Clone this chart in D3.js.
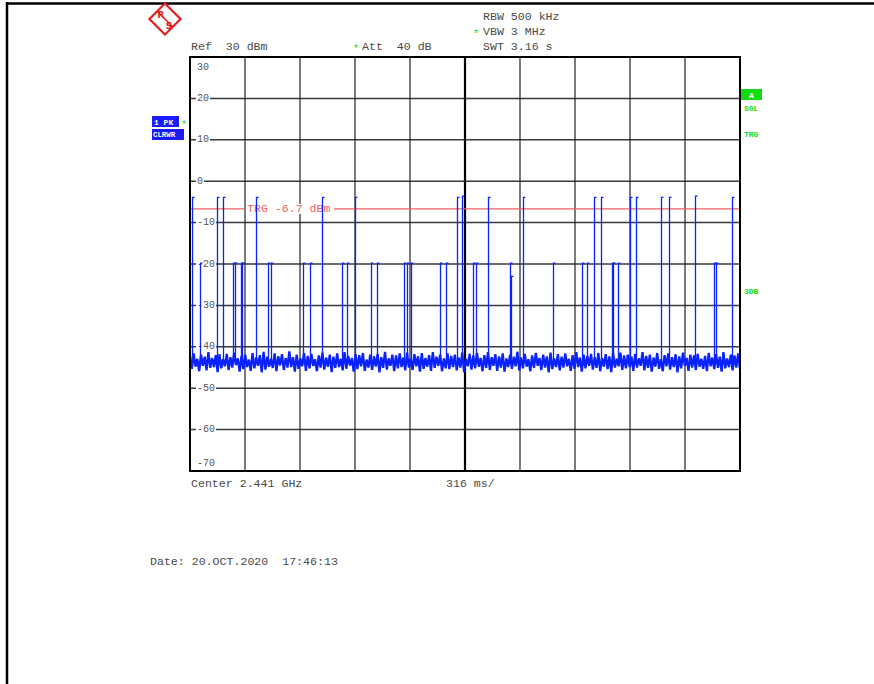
<!DOCTYPE html>
<html><head><meta charset="utf-8">
<script src="https://cdn.jsdelivr.net/npm/d3@7/dist/d3.min.js"></script>
<style>html,body{margin:0;padding:0;background:#fff;}svg{display:block;}</style>
</head><body>
<svg id="c" width="874" height="684"></svg>
<script>
// ---- data ----
const yTicks = [30, 20, 10, 0, -10, -20, -30, -40, -50, -60, -70];
const xDivisions = [0, 316, 632, 948, 1264, 1580, 1896, 2212, 2528, 2844, 3160]; // ms
const triggerLevel = -6.7;
// tall bursts (ms, dBm)
const tallTimes = [9, 153, 191, 379, 761, 948, 1532, 1564, 1714, 1912, 2321, 2360, 2528, 2562, 2704, 2754, 2901, 3116];
const tallPeaks = [-3.9, -3.9, -3.9, -3.9, -3.9, -3.9, -3.9, -3.6, -3.9, -3.9, -3.9, -3.9, -3.9, -3.9, -3.9, -3.9, -3.6, -3.9];
// medium bursts (ms, dBm)
const midTimes = [57, 245, 259, 291, 300, 450, 468, 648, 689, 875, 900, 1038, 1076, 1230, 1244, 1268, 1436, 1469, 1624, 1643, 1836, 1844, 2087, 2251, 2283, 2423, 2430, 2461, 3011, 3020];
const midPeaks = [-19.8, -19.8, -19.8, -19.8, -19.8, -19.8, -19.8, -19.8, -19.8, -19.8, -19.8, -19.8, -19.8, -19.8, -19.8, -19.8, -19.8, -19.8, -19.8, -19.8, -19.8, -23.0, -19.8, -19.8, -19.8, -19.8, -19.8, -19.8, -19.8, -19.8];
// noise floor trace (dBm), evenly spaced over the sweep
const noise = [
-42.1,-45.3,-41.6,-44.8,-42.9,-45.9,-41.9,-44.6,-42.4,-45.7,-41.3,-45.1,-42.7,-44.9,-42.0,-46.1,-41.8,-45.2,-43.0,-44.7,
-41.7,-45.6,-42.5,-45.0,-41.4,-44.4,-42.8,-46.0,-42.2,-45.4,-41.9,-44.9,-43.1,-45.8,-41.5,-45.2,-42.6,-44.6,-42.0,-46.2,
-41.2,-45.5,-42.4,-44.8,-42.9,-45.1,-41.6,-45.9,-42.3,-44.5,-41.8,-45.6,-42.7,-45.0,-41.1,-44.9,-42.5,-46.0,-41.9,-45.3,
-42.8,-44.7,-41.5,-45.8,-42.2,-45.2,-41.7,-44.6,-43.0,-45.9,-42.1,-45.0,-41.4,-45.5,-42.6,-44.8,-41.9,-46.1,-42.4,-45.1,
-41.6,-44.9,-42.9,-45.7,-41.3,-45.3,-42.2,-44.5,-42.7,-46.0,-41.8,-45.4,-42.0,-44.7,-41.5,-45.8,-43.1,-45.0,-41.9,-45.6,
-42.3,-44.8,-41.7,-46.2,-42.5,-45.1,-41.2,-45.5,-42.8,-44.6,-41.9,-45.9,-42.1,-45.2,-41.6,-44.9,-42.6,-45.7,-41.4,-45.0,
-42.9,-45.6,-41.8,-44.7,-42.3,-46.0,-41.5,-45.3,-42.7,-44.8,-42.0,-45.8,-41.3,-45.1,-42.4,-44.6,-41.9,-45.9,-42.8,-45.2,
-41.6,-45.4,-42.2,-44.9,-41.9,-45.7,-42.6,-45.0,-41.4,-46.1,-42.9,-44.7,-41.7,-45.5,-42.1,-45.2,-41.5,-44.8,-42.7,-45.9,
-42.0,-45.1,-41.3,-45.6,-42.5,-44.6,-41.8,-45.8,-42.3,-45.0,-41.6,-46.0,-42.8,-44.9,-41.9,-45.3,-42.4,-44.7,-41.2,-45.7,
-42.6,-45.2,-41.7,-44.8,-43.0,-45.9,-42.1,-45.1,-41.5,-44.6,-42.7,-45.6,-41.9,-45.0,-42.3,-46.2,-41.4,-45.4,-42.8,-44.9,
-41.8,-45.7,-42.4,-45.0,-41.6,-44.7,-42.9,-45.8,-42.0,-45.3,-41.3,-44.9,-42.6,-46.0,-41.9,-45.2,-42.2,-44.6,-41.7,-45.5,
-42.5,-45.1,-41.5,-45.9,-42.7,-44.8,-41.8,-45.4,-42.3,-46.1,-41.6,-45.0,-42.9,-44.7,-41.4,-45.6,-42.1,-45.2,-41.9,-44.9,
-42.4,-45.8,-41.7,-45.0,-42.8,-44.6,-41.3,-45.7,-42.2,-45.1,-41.9,-46.0,-42.6,-44.8,-41.5,-45.3,-43.0,-45.9,-42.0,-44.7,
-41.6,-45.5,-42.5,-44.9,-41.8,-46.2,-42.3,-45.2,-41.4,-44.6,-42.7,-45.8,-41.9,-45.0,-42.1,-45.6,-41.7,-44.8,-42.9,-45.3,
-42.2,-45.9,-41.5,-44.7,-42.6,-45.4,-41.8,-45.1,-42.4,-46.0,-41.3,-45.2,-42.8,-44.9,-41.9,-45.7,-42.1,-45.0,-41.6,-45.4
];
const sweepMs = 3160;

// ---- drawing ----
const svg = d3.select('#c');
const X0 = 190, X1 = 740, Y0 = 57, Y1 = 471;
const x = d3.scaleLinear().domain([0, sweepMs]).range([X0, X1]);
const y = d3.scaleLinear().domain([-70, 30]).range([Y1, Y0]);
const mono = "'Liberation Mono','Courier New',monospace";
const txtCol = '#4a4a4a';
const green = '#10dd10';
const blue = '#0a22ff';

// page frame
svg.append('line').attr('x1', 6).attr('x2', 874).attr('y1', 3.5).attr('y2', 3.5).attr('stroke', '#000').attr('stroke-width', 2.5);
svg.append('line').attr('x1', 7).attr('x2', 7).attr('y1', 2).attr('y2', 684).attr('stroke', '#000').attr('stroke-width', 2.5);

// logo
const logo = svg.append('g').attr('transform', 'translate(165,19)');
logo.append('rect').attr('x', -11).attr('y', -11).attr('width', 22).attr('height', 22)
  .attr('transform', 'rotate(45)').attr('fill', 'none').attr('stroke', '#e02020').attr('stroke-width', 2.2);
logo.append('line').attr('x1', -8).attr('y1', -8).attr('x2', 8).attr('y2', 8).attr('stroke', '#e02020').attr('stroke-width', 1.6);
logo.append('text').attr('x', -4).attr('y', -1).attr('text-anchor', 'middle').attr('font-family', "'DejaVu Sans',sans-serif")
  .attr('font-weight', 'bold').attr('font-size', 9).attr('fill', '#e02020').text('R');
logo.append('text').attr('x', 4).attr('y', 10).attr('text-anchor', 'middle').attr('font-family', "'DejaVu Sans',sans-serif")
  .attr('font-weight', 'bold').attr('font-size', 9).attr('fill', '#e02020').text('S');

// header texts
function txt(xp, yp, s, opts = {}) {
  return svg.append('text').attr('x', xp).attr('y', yp).attr('font-family', mono)
    .attr('font-size', opts.size || 11.6).attr('fill', opts.fill || txtCol)
    .attr('text-anchor', opts.anchor || 'start').attr('dominant-baseline', 'central')
    .attr('xml:space', 'preserve').style('white-space', 'pre').text(s);
}
txt(483, 16, 'RBW 500 kHz');
txt(473, 34, '*', { fill: green, size: 10 });
txt(483, 31, 'VBW 3 MHz');
txt(191, 46, 'Ref  30 dBm');
txt(353, 49, '*', { fill: green, size: 10 });
txt(362, 46, 'Att  40 dB');
txt(483, 46, 'SWT 3.16 s');
txt(191, 483, 'Center 2.441 GHz');
txt(446, 483, '316 ms/');
txt(150, 561, 'Date: 20.OCT.2020  17:46:13');

// left trace info boxes
svg.append('rect').attr('x', 152).attr('y', 116).attr('width', 27).attr('height', 11).attr('fill', '#1a1aff');
svg.append('text').attr('x', 154).attr('y', 122).attr('dominant-baseline', 'central').attr('font-family', mono)
  .attr('font-weight', 'bold').attr('font-size', 8).attr('fill', '#fff').style('white-space', 'pre').text('1 PK');
svg.append('text').attr('x', 181).attr('y', 125).attr('dominant-baseline', 'central').attr('font-family', mono)
  .attr('font-size', 10).attr('fill', green).text('*');
svg.append('rect').attr('x', 152).attr('y', 129).attr('width', 32).attr('height', 11).attr('fill', '#1a1aff');
svg.append('text').attr('x', 153).attr('y', 135).attr('dominant-baseline', 'central').attr('font-family', mono)
  .attr('font-weight', 'bold').attr('font-size', 7.4).attr('fill', '#fff').text('CLRWR');

// right side status
svg.append('rect').attr('x', 741).attr('y', 89).attr('width', 21).attr('height', 11).attr('fill', green);
svg.append('text').attr('x', 751.5).attr('y', 95).attr('text-anchor', 'middle').attr('dominant-baseline', 'central')
  .attr('font-family', mono).attr('font-weight', 'bold').attr('font-size', 8).attr('fill', '#fff').text('A');
[['SGL', 108], ['TRG', 134], ['3DB', 291]].forEach(([s, yy]) => {
  svg.append('text').attr('x', 744).attr('y', yy).attr('dominant-baseline', 'central').attr('font-family', mono)
    .attr('font-weight', 'bold').attr('font-size', 8).attr('fill', green).text(s);
});

// grid
const grid = svg.append('g');
yTicks.slice(1, -1).forEach(v => {
  grid.append('line').attr('x1', X0).attr('x2', X1).attr('y1', y(v)).attr('y2', y(v))
    .attr('stroke', '#3a3a3a').attr('stroke-width', 1.5);
});
xDivisions.slice(1, -1).forEach((t, i) => {
  const center = i === 4;
  grid.append('line').attr('x1', x(t)).attr('x2', x(t)).attr('y1', Y0).attr('y2', Y1)
    .attr('stroke', center ? '#000' : '#222').attr('stroke-width', center ? 2.2 : 1.2);
});

// tick labels inside the plot
const lab = svg.append('g');
yTicks.forEach((v, i) => {
  let yy = y(v);
  if (i === 0) yy = y(v) + 10;
  if (i === yTicks.length - 1) yy = y(v) - 8;
  const s = String(v);
  const w = s.length * 6;
  lab.append('rect').attr('x', 196).attr('y', yy - 4).attr('width', w + 2).attr('height', 8).attr('fill', '#fff');
  lab.append('text').attr('x', 197).attr('y', yy).attr('dominant-baseline', 'central').attr('font-family', mono)
    .attr('font-size', 10).attr('fill', '#555').text(s);
});

// trigger line
svg.append('line').attr('x1', X0).attr('x2', X1).attr('y1', y(triggerLevel)).attr('y2', y(triggerLevel))
  .attr('stroke', '#f06060').attr('stroke-width', 1.3);
svg.append('rect').attr('x', 246).attr('y', y(triggerLevel) - 5).attr('width', 88).attr('height', 10).attr('fill', '#fff');
svg.append('text').attr('x', 247).attr('y', y(triggerLevel)).attr('dominant-baseline', 'central').attr('font-family', mono)
  .attr('font-size', 11.6).attr('fill', '#f06060').style('white-space', 'pre').text('TRG -6.7 dBm');

// noise trace
const noisePts = noise.map((v, i) => [i * sweepMs / (noise.length - 1), v]);
svg.append('path').datum(noisePts)
  .attr('d', d3.line().x(d => x(d[0])).y(d => y(d[1])))
  .attr('fill', 'none').attr('stroke', blue).attr('stroke-width', 2.3);

// bursts
function spikes(times, peaks) {
  times.forEach((t, i) => {
    const xx = Math.round(x(t)) + 0.5;
    svg.append('path').attr('d', `M${xx},${y(-44)}V${y(peaks[i])}H${xx + 2}`)
      .attr('fill', 'none').attr('stroke', blue).attr('stroke-width', 1.3);
  });
}
spikes(tallTimes, tallPeaks);
spikes(midTimes, midPeaks);

// plot frame
svg.append('rect').attr('x', X0).attr('y', Y0).attr('width', X1 - X0).attr('height', Y1 - Y0)
  .attr('fill', 'none').attr('stroke', '#000').attr('stroke-width', 2);
</script>
</body></html>
